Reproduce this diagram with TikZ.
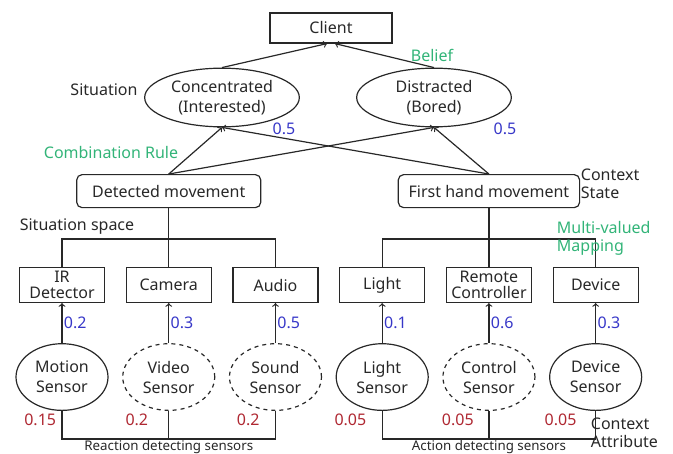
\documentclass[tikz,border=0pt]{standalone}
\usepackage{fontspec}
\setmainfont{Noto Sans}
\usetikzlibrary{arrows,positioning,shapes.geometric}

\definecolor{ink}{RGB}{40,40,40}
\definecolor{probblue}{RGB}{55,55,200}
\definecolor{probred}{RGB}{175,40,50}
\definecolor{rulegreen}{RGB}{50,180,120}

\tikzset{
	base/.style={font=\fontsize{12}{15}\selectfont, text=ink, align=center, inner sep=1pt},
	box/.style={base, draw=ink, minimum width=63.75pt, minimum height=26.25pt, font=\fontsize{12}{11.5}\selectfont},
	statebox/.style={base, draw=ink, rounded corners=4pt, minimum height=24.75pt},
	situation/.style={base, draw=ink, ellipse, minimum width=116pt, minimum height=44pt, inner sep=0pt},
	sensor/.style={base, draw=ink, ellipse, minimum width=69pt, minimum height=50pt, inner sep=0pt},
	nosensor/.style={sensor, dashed},
	note/.style={base, align=left, font=\fontsize{12}{13.5}\selectfont},
	rule/.style={base, text=rulegreen},
	pblue/.style={base, text=probblue},
	pred/.style={base, text=probred},
	small/.style={base, font=\fontsize{10}{11}\selectfont, inner sep=0.5pt}
}

\begin{document}
\begin{tikzpicture}[x=0.75pt, y=-0.75pt, line width=0.9pt, draw=ink, >=to]
	\useasboundingbox (0,0) rectangle (673,453);

	% context attributes
	\node[box] (ir) at (62,285) {IR\\Detector};
	\node[box, right=15.4pt of ir] (camera) {Camera};
	\node[box, right=15.4pt of camera] (audio) {Audio};
	\node[box, right=15.4pt of audio] (light) {Light};
	\node[box, right=15.4pt of light] (remote) {Remote\\Controller};
	\node[box, right=15.4pt of remote] (device) {Device};

	% sensors
	\node[sensor, below=30pt of ir] (motion_sensor) {Motion\\Sensor};
	\node[nosensor, below=30pt of camera] (video_sensor) {Video\\Sensor};
	\node[nosensor, below=30pt of audio] (sound_sensor) {Sound\\Sensor};
	\node[sensor, below=30pt of light] (light_sensor) {Light\\Sensor};
	\node[nosensor, below=30pt of remote] (control_sensor) {Control\\Sensor};
	\node[sensor, below=30pt of device] (device_sensor) {Device\\Sensor};

	% context states and situations
	\node[statebox, minimum width=138pt, above=44pt of camera] (detected) {Detected movement};
	\node[statebox, minimum width=136pt, above=44pt of remote] (first_hand) {First hand movement};
	\node[situation] (concentrated) at (222,97.5) {Concentrated\\(Interested)};
	\node[situation] (distracted) at (434,97.5) {Distracted\\(Bored)};
	\node[box, minimum width=91.5pt, minimum height=22.5pt] (client) at (331,28) {Client};

	\coordinate (top_bus) at (0,239);
	\coordinate (bottom_bus) at (0,439);

	\draw[->] (concentrated.north) -- ([xshift=-3pt]client.south);
	\draw[->] (distracted.north) -- ([xshift=3pt]client.south);
	\draw[->] (detected.north) -- (concentrated.south);
	\draw[->] (detected.north) -- (distracted.south);
	\draw[->] (first_hand.north) -- (concentrated.south);
	\draw[->] (first_hand.north) -- (distracted.south);

	\draw (detected.south) -- (camera.north);
	\draw (ir.north) -- (ir.north |- top_bus) -- (audio.north |- top_bus) -- (audio.north);
	\draw (first_hand.south) -- (remote.north);
	\draw (light.north) -- (light.north |- top_bus) -- (device.north |- top_bus) -- (device.north);

	\draw[->] (motion_sensor) -- node[pblue, right] (p_ir) {0.2} (ir);
	\draw[->] (video_sensor) -- node[pblue, right] (p_camera) {0.3} (camera);
	\draw[->] (sound_sensor) -- node[pblue, right] (p_audio) {0.5} (audio);
	\draw[->] (light_sensor) -- node[pblue, right] (p_light) {0.1} (light);
	\draw[->] (control_sensor) -- node[pblue, right] (p_remote) {0.6} (remote);
	\draw[->] (device_sensor) -- node[pblue, right] (p_device) {0.3} (device);

	\draw (motion_sensor.south) -- (motion_sensor.south |- bottom_bus) -- (sound_sensor.south |- bottom_bus) -- (sound_sensor.south);
	\draw (video_sensor.south) -- (video_sensor.south |- bottom_bus);
	\draw (light_sensor.south) -- (light_sensor.south |- bottom_bus) -- (device_sensor.south |- bottom_bus) -- (device_sensor.south);
	\draw (control_sensor.south) -- (control_sensor.south |- bottom_bus);

	% reliabilities
	\node[pred, anchor=east] (r_motion) at ([xshift=-3pt, yshift=-6.5pt]motion_sensor.south) {0.15};
	\node[pred, anchor=east] (r_video) at ([xshift=-14pt, yshift=-6.5pt]video_sensor.south) {0.2};
	\node[pred, anchor=east] (r_sound) at ([xshift=-10.5pt, yshift=-6.5pt]sound_sensor.south) {0.2};
	\node[pred, anchor=east] (r_light) at ([xshift=-10.5pt, yshift=-6.5pt]light_sensor.south) {0.05};
	\node[pred, anchor=east] (r_control) at ([xshift=-10pt, yshift=-6.5pt]control_sensor.south) {0.05};
	\node[pred, anchor=east] (r_device) at ([xshift=-13pt, yshift=-6.5pt]device_sensor.south) {0.05};

	\node[pblue] (b_concentrated) at (284,129) {0.5};
	\node[pblue] (b_distracted) at (505,129) {0.5};

	% labels
	\node[small, anchor=north] (reaction_lbl) at (video_sensor.south |- bottom_bus) {Reaction detecting sensors};
	\node[small, anchor=north] (action_lbl) at (control_sensor.south |- bottom_bus) {Action detecting sensors};
	\node[base] (situation_lbl) at (104,90) {Situation};
	\node[base] (space_lbl) at (77,227) {Situation space};
	\node[rule] (belief_lbl) at (432,55) {Belief};
	\node[rule] (combination_lbl) at (111,152) {Combination Rule};
	\node[note, anchor=west] (state_lbl) at (579,184) {Context\\State};
	\node[rule, align=left, anchor=west, font=\fontsize{12}{13.5}\selectfont] (mapping_lbl) at (555,238) {Multi-valued\\Mapping};
	\node[note, anchor=west] (attribute_lbl) at (589,433) {Context\\Attribute};
\end{tikzpicture}
\end{document}
